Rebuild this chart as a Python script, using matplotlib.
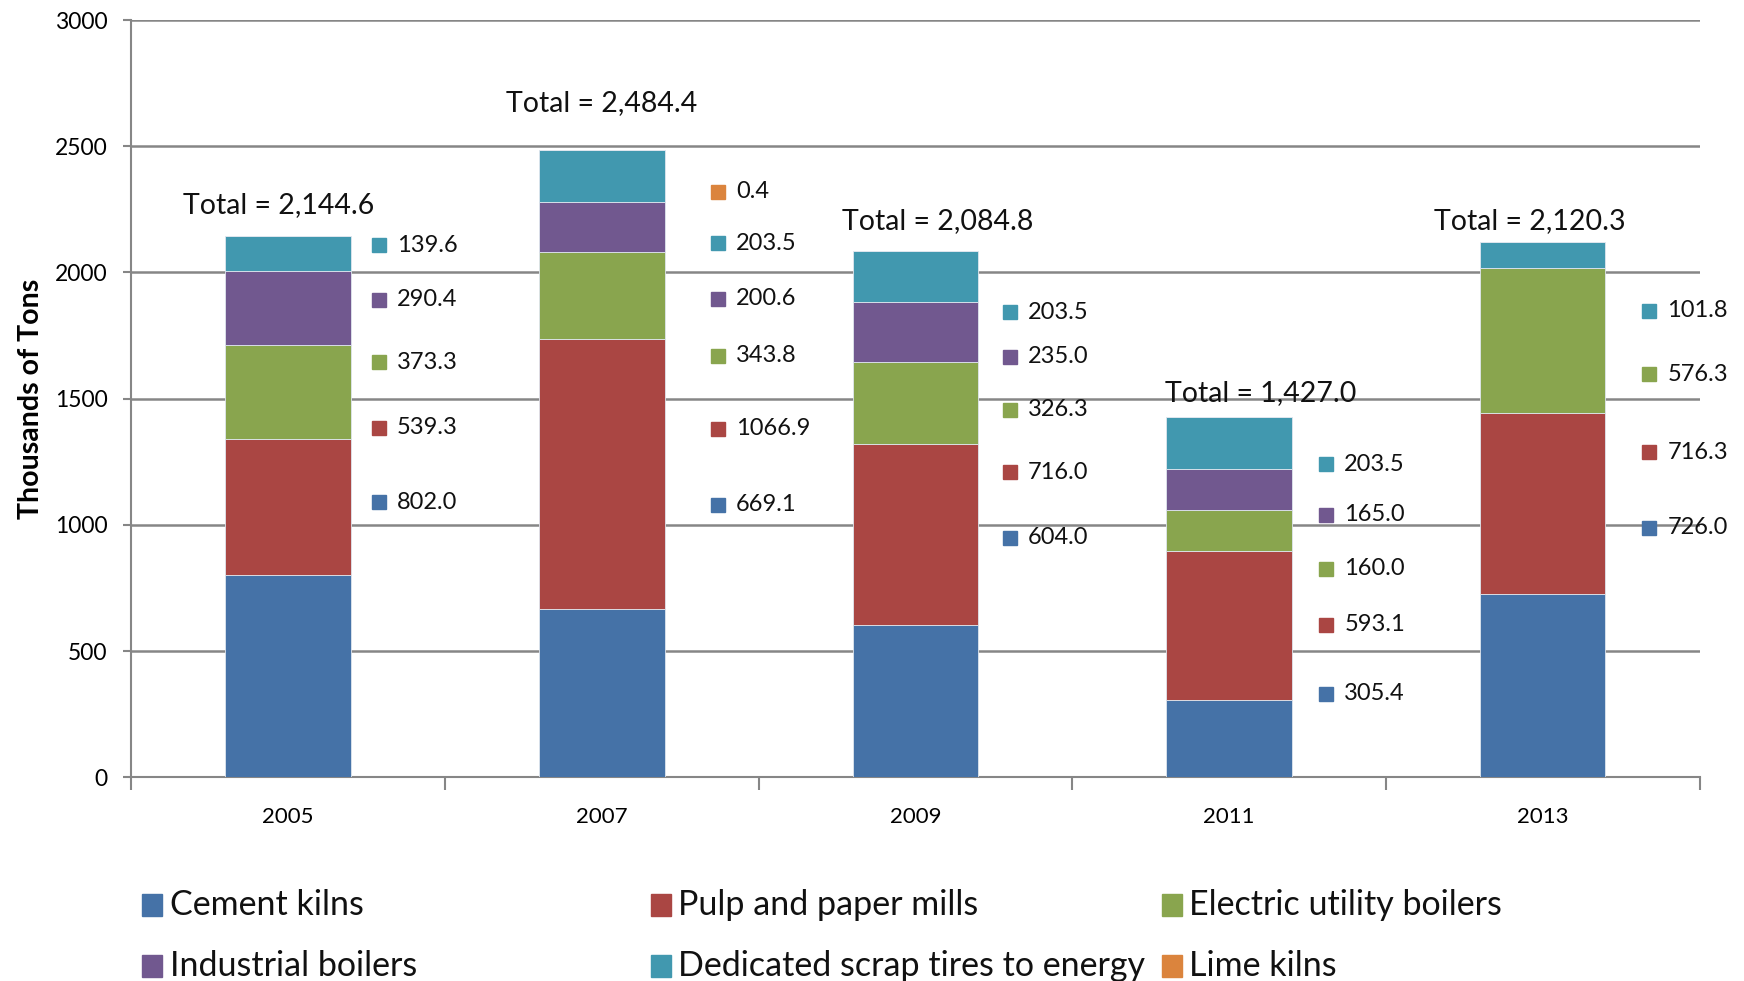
import numpy as np
import matplotlib.pyplot as plt
from matplotlib.patches import Rectangle

plt.rcParams['font.family'] = ['Lato', 'DejaVu Sans']

# --- data -------------------------------------------------------------
years = ["2005", "2007", "2009", "2011", "2013"]
series = ["Cement kilns", "Pulp and paper mills", "Electric utility boilers",
          "Industrial boilers", "Dedicated scrap tires to energy", "Lime kilns"]

cement_kilns = [802.0, 669.1, 604.0, 305.4, 726.0]
pulp_paper = [539.3, 1066.9, 716.0, 593.1, 716.3]
electric_utility = [373.3, 343.8, 326.3, 160.0, 576.3]
industrial_boilers = [290.4, 200.6, 235.0, 165.0, 0.0]
scrap_tires = [139.6, 203.5, 203.5, 203.5, 101.8]
lime_kilns = [0.0, 0.4, 0.0, 0.0, 0.0]
totals = ["2,144.6", "2,484.4", "2,084.8", "1,427.0", "2,120.3"]

colors = ["#4572A7", "#AA4643", "#89A54E", "#71588F", "#4198AF", "#DB843D"]

# --- label layout (hand placed in the original, y in data units) -------
label_y = [
    [1090, 1385, 1645, 1892, 2107, None],
    [1081, 1381, 1671, 1896, 2116, 2319],
    [949, 1209, 1456, 1667, 1843, None],
    [332, 605, 826, 1041, 1240, None],
    [989, 1288, 1597, None, 1848, None],
]
label_dx = [0.29, 0.37, 0.30, 0.31, 0.34]
total_dx = [-0.03, 0.0, 0.07, 0.10, -0.04]
total_y = [2268, 2673, 2202, 1524, 2202]

values = np.array([cement_kilns, pulp_paper, electric_utility,
                   industrial_boilers, scrap_tires, lime_kilns])

fig = plt.figure(figsize=(17.44, 9.81), dpi=100)
ax = fig.add_axes([0.0753, 0.2075, 0.9745 - 0.0753, 0.9796 - 0.2075])

x = np.arange(len(years))
bottom = np.zeros(len(years))
for i, name in enumerate(series):
    ax.bar(x, values[i], 0.4, bottom=bottom, color=colors[i],
           edgecolor="#dfe6ee", linewidth=0.6, zorder=3)
    bottom += values[i]

# data labels: colored square + value
for j in range(len(years)):
    for i in range(len(series)):
        yy = label_y[j][i]
        if yy is None:
            continue
        ax.plot(x[j] + label_dx[j], yy, marker="s", markersize=10.5,
                color=colors[i], linestyle="none", zorder=4, clip_on=False)
        ax.annotate(f"{values[i][j]:.1f}", (x[j] + label_dx[j], yy),
                    xytext=(13, 0), textcoords="offset points",
                    ha="left", va="center", fontsize=17, color="#111111")
    ax.text(x[j] + total_dx[j], total_y[j], f"Total = {totals[j]}",
            ha="center", va="center", fontsize=20.5, color="#111111")

# axes formatting (Excel look)
ax.set_xlim(-0.5, len(years) - 0.5)
ax.set_ylim(0, 3000)
ax.set_yticks(np.arange(0, 3001, 500))
ax.tick_params(axis="y", labelsize=16.5, length=6, width=1.5, color="#868686", pad=11)
ax.set_xticks(np.arange(-0.5, len(years), 1.0))
ax.set_xticklabels([])
ax.set_xticks(x, minor=True)
ax.set_xticklabels(years, minor=True)
ax.tick_params(axis="x", which="major", length=9, width=1.5, color="#868686")
ax.tick_params(axis="x", which="minor", length=0, labelsize=16, pad=21)
ax.grid(axis="y", color="#868686", linewidth=1.8, zorder=0)
ax.set_axisbelow(True)
for s in ["top", "right"]:
    ax.spines[s].set_visible(False)
for s in ["left", "bottom"]:
    ax.spines[s].set_color("#868686")
    ax.spines[s].set_linewidth(1.5)
ax.set_ylabel("Thousands of Tons", fontsize=20.5, fontweight="bold", labelpad=8)

# legend, drawn row by row like the original
leg_x = [0.0816, 0.373, 0.666]
leg_y = [0.0775, 0.0155]
for k, name in enumerate(series):
    r, c = divmod(k, 3)
    fig.add_artist(Rectangle((leg_x[c], leg_y[r] - 0.0113), 0.0115, 0.0227,
                             transform=fig.transFigure, color=colors[k]))
    fig.text(leg_x[c] + 0.016, leg_y[r], name, fontsize=24.5,
             ha="left", va="center", color="#111111")

fig.savefig("out.png", dpi=100)
